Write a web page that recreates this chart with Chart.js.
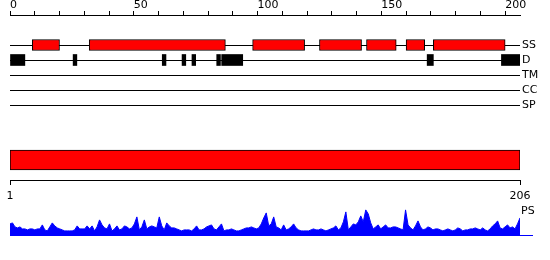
<!DOCTYPE html>
<html>
<head>
<meta charset="utf-8">
<script src="https://cdn.jsdelivr.net/npm/chart.js@4.4.0/dist/chart.umd.min.js"></script>
<style>
  body { margin: 0; background: #fff; }
  #wrap { position: relative; width: 550px; height: 260px; }
  canvas { position: absolute; left: 0; }
</style>
</head>
<body>
<div id="wrap">
  <canvas id="tracks" width="550" height="120" style="top:0px"></canvas>
  <canvas id="chain" width="550" height="65" style="top:140px"></canvas>
  <canvas id="ps" width="550" height="33" style="top:205px"></canvas>
</div>
<script>
// --- dados ---
const seqLength = 206;
const topTicks = [0, 10, 20, 30, 40, 50, 60, 70, 80, 90, 100, 110, 120, 130, 140, 150, 160, 170, 180, 190, 200];
const topTickLabels = ['0', '50', '100', '150', '200'];
const trackLabels = ['SS', 'D', 'TM', 'CC', 'SP'];
const ssRegions = [[9, 20], [32, 87], [98, 119], [125, 142], [144, 156], [160, 167.5], [171, 200]];
const disorderRegions = [[0, 6], [25.5, 27], [61.5, 63], [69.5, 71], [73.5, 75], [83.5, 85], [85.5, 94], [168.5, 171], [198.5, 206]];
const chainRange = [1, 206];
const chainTicks = [1, 206];
const psLabel = 'PS';
const psScores = [
  12, 13, 9, 8, 9, 7, 7, 6, 7, 7,
  6, 7, 7, 11, 6, 5, 9, 13, 10, 8,
  7, 6, 5, 5, 5, 5, 6, 10, 7, 7,
  7, 10, 7, 10, 5, 9, 16, 11, 8, 7,
  12, 5, 7, 10, 6, 7, 10, 9, 7, 8,
  12, 19, 6, 9, 16, 7, 9, 10, 9, 8,
  19, 10, 6, 13, 10, 8, 8, 7, 6, 5,
  6, 6, 6, 5, 7, 10, 6, 6, 7, 9,
  10, 11, 7, 6, 9, 12, 5, 6, 6, 7,
  6, 5, 5, 6, 7, 8, 8, 9, 8, 7,
  8, 12, 18, 23, 10, 12, 19, 9, 8, 6,
  11, 6, 7, 9, 12, 8, 6, 5, 5, 5,
  5, 6, 7, 6, 6, 7, 6, 5, 6, 7,
  8, 10, 6, 8, 14, 24, 6, 9, 12, 11,
  14, 20, 14, 26, 22, 13, 7, 9, 11, 7,
  9, 11, 8, 8, 9, 9, 8, 7, 6, 26,
  11, 8, 6, 10, 15, 9, 6, 7, 9, 8,
  6, 7, 7, 6, 5, 6, 7, 6, 5, 6,
  8, 7, 5, 6, 6, 7, 7, 8, 7, 6,
  8, 6, 5, 7, 10, 12, 15, 8, 7, 9,
  11, 8, 9, 7, 12, 18
];

Chart.defaults.font.family = 'DejaVu Sans';
Chart.defaults.font.size = 11;
Chart.defaults.color = '#000';
Chart.defaults.animation = false;
Chart.defaults.responsive = false;
Chart.defaults.plugins.legend.display = false;
Chart.defaults.plugins.tooltip.enabled = false;

const RED = '#ff0000';
const BLUE = '#0000ff';
const fixHeight = h => scale => { scale.height = h; };
// largura fixa e sem a margem extra que o Chart.js reserva para os rótulos das pontas
const fixWidth = w => scale => { scale.width = w; scale.paddingTop = 0; scale.paddingBottom = 0; };

// --- trilhas (SS, D, TM, CC, SP) ---
const trackRow = label => trackLabels.indexOf(label) + 2;

new Chart(document.getElementById('tracks'), {
  type: 'bar',
  data: {
    datasets: [
      {
        data: ssRegions.map(r => ({ x: r, y: trackRow('SS') })),
        backgroundColor: RED, borderColor: '#000', borderWidth: 1,
        borderSkipped: false, barThickness: 11, grouped: false
      },
      {
        data: disorderRegions.map(r => ({ x: r, y: trackRow('D') })),
        backgroundColor: '#000', borderWidth: 0,
        borderSkipped: false, barThickness: 11, grouped: false
      }
    ]
  },
  options: {
    indexAxis: 'y',
    layout: { padding: { left: 10, right: 0, top: 0, bottom: 0 } },
    scales: {
      x: {
        type: 'linear', position: 'top', min: 0, max: seqLength,
        afterFit: fixHeight(15),
        afterBuildTicks: s => { s.ticks = topTicks.map(v => ({ value: v })); },
        grid: { drawOnChartArea: false, color: '#000', tickLength: 4 },
        border: { color: '#000' },
        ticks: {
          autoSkip: false, maxRotation: 0, align: 'start', padding: -1,
          callback: v => topTickLabels.includes(String(v)) ? String(v) : ''
        }
      },
      y: {
        type: 'linear', position: 'right', reverse: true, min: 0, max: 7,
        offset: false,
        afterFit: fixWidth(30),
        afterBuildTicks: s => { s.ticks = trackLabels.map((l, i) => ({ value: i + 2 })); },
        grid: { color: '#000', drawTicks: false, offset: false },
        border: { display: false },
        ticks: { autoSkip: false, padding: 2, callback: v => trackLabels[v - 2] }
      }
    }
  }
});

// --- cadeia inteira ---
new Chart(document.getElementById('chain'), {
  type: 'bar',
  data: {
    datasets: [{
      data: [{ x: chainRange, y: 1 }],
      backgroundColor: RED, borderColor: '#000', borderWidth: 1,
      borderSkipped: false, barThickness: 20
    }]
  },
  options: {
    indexAxis: 'y',
    layout: { padding: { left: 10, right: 30, top: 0, bottom: 0 } },
    scales: {
      x: {
        type: 'linear', position: 'bottom', min: chainRange[0], max: chainRange[1],
        afterFit: fixHeight(25),
        afterBuildTicks: s => { s.ticks = chainTicks.map(v => ({ value: v })); },
        grid: { drawOnChartArea: false, color: '#000', tickLength: 5 },
        border: { color: '#000' },
        ticks: { autoSkip: false, maxRotation: 0, padding: 5 }
      },
      y: { type: 'linear', min: 0, max: 2, offset: false, grid: { offset: false }, display: false }
    }
  }
});

// --- PS ---
new Chart(document.getElementById('ps'), {
  type: 'line',
  data: {
    datasets: [{
      data: psScores.map((v, i) => ({ x: i + 1, y: v })),
      fill: 'origin', backgroundColor: BLUE, borderColor: BLUE,
      borderWidth: 1, pointRadius: 0, tension: 0
    }]
  },
  options: {
    layout: { padding: { left: 10, right: 0, top: 0, bottom: 2 } },
    scales: {
      x: { type: 'linear', min: 1, max: seqLength, display: false },
      y: {
        type: 'linear', position: 'right', min: -0.1, max: 30.9,
        afterFit: fixWidth(30),
        afterBuildTicks: s => { s.ticks = [{ value: 0 }, { value: 25 }]; },
        grid: {
          drawOnChartArea: false, tickLength: 13,
          color: c => c.tick && c.tick.value === 0 ? BLUE : 'rgba(0,0,0,0)'
        },
        border: { display: false },
        ticks: { autoSkip: false, padding: -12, callback: v => v === 25 ? psLabel : '' }
      }
    }
  }
});
</script>
</body>
</html>
